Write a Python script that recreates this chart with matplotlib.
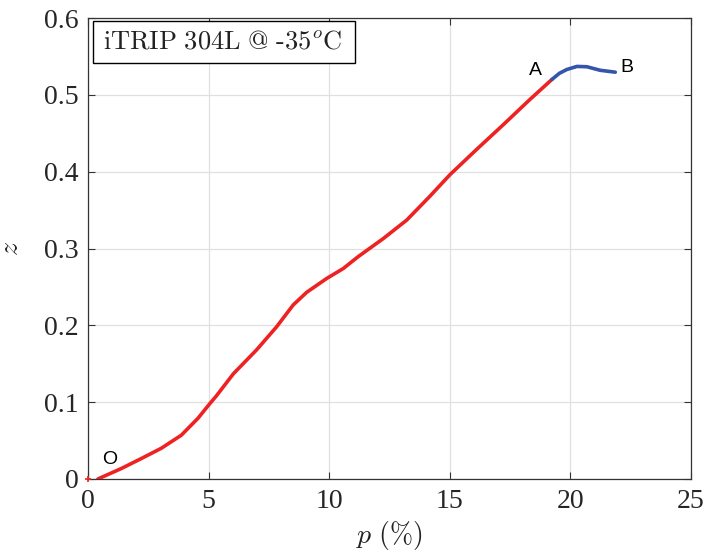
import matplotlib
matplotlib.use("Agg")
import matplotlib.pyplot as plt
from matplotlib.patches import Rectangle

plt.rcParams['font.family'] = ['Liberation Serif', 'DejaVu Serif']
plt.rcParams['mathtext.fontset'] = 'cm'

# Segment O-A (red)
p_red = [0.41, 1.38, 2.21, 3.04, 3.87, 4.56, 5.05, 5.32, 6.03, 6.99, 7.82, 8.51, 9.07,
         9.90, 10.59, 11.21, 12.25, 13.22, 14.18, 15.01, 16.12, 17.22, 18.33, 19.24]
z_red = [0.0, 0.0136, 0.0266, 0.040, 0.057, 0.079, 0.098, 0.108, 0.137, 0.168, 0.198, 0.2265, 0.243,
         0.261, 0.274, 0.2895, 0.313, 0.337, 0.368, 0.396, 0.429, 0.461, 0.494, 0.520]
# Segment A-B (blue)
p_blue = [19.24, 19.55, 19.86, 20.28, 20.69, 21.24, 21.87]
z_blue = [0.520, 0.528, 0.533, 0.537, 0.5366, 0.532, 0.5295]

x_ticks = [0, 5, 10, 15, 20, 25]
y_ticks = [0, 0.1, 0.2, 0.3, 0.4, 0.5, 0.6]
y_tick_labels = ['0', '0.1', '0.2', '0.3', '0.4', '0.5', '0.6']

fig = plt.figure(figsize=(7.07, 5.58), dpi=100)
ax = fig.add_axes([0.1245, 0.1416, 0.8525, 0.8261])

ax.plot([0], [0], marker='+', color='#ee2222', markersize=5, mew=1.2, clip_on=False, zorder=4)
ax.plot(p_red, z_red, color='#ee2222', lw=2.6, solid_capstyle='round',
        solid_joinstyle='round', zorder=3)
ax.plot(p_blue, z_blue, color='#3355aa', lw=2.6, solid_capstyle='round',
        solid_joinstyle='round', zorder=3)

ax.set_xlim(0, 25)
ax.set_ylim(0, 0.6)
ax.set_xticks(x_ticks)
ax.set_xticklabels([str(t) for t in x_ticks])
ax.set_yticks(y_ticks)
ax.set_yticklabels(y_tick_labels)
ax.grid(True, color='#e0e0e0', lw=0.9)
ax.set_axisbelow(True)
ax.tick_params(direction='in', top=True, right=True, length=5, width=0.8,
               labelsize=20, colors='#333333', labelcolor='#262626', pad=7)
for s in ax.spines.values():
    s.set_color('#333333')
    s.set_linewidth(0.9)

ax.set_xlabel(r'$p\ \mathrm{(\%)}$', fontsize=20, labelpad=4, color='#222222')
ax.set_ylabel(r'$z$', fontsize=20, labelpad=14, color='#222222')

ax.add_patch(Rectangle((0.008, 0.902), 0.435, 0.091, transform=ax.transAxes,
                       fc='white', ec='black', lw=1.0, zorder=5))
ax.text(0.025, 0.948, r'$\mathrm{iTRIP\ 304L\ @\ \text{-}35}^{o}\mathrm{C}$', transform=ax.transAxes,
        fontsize=19, va='center', ha='left', color='#222222', zorder=6)

sans = ['Liberation Sans', 'DejaVu Sans']
ax.text(18.55, 0.532, 'A', fontsize=14, family=sans, ha='center', va='center')
ax.text(22.35, 0.535, 'B', fontsize=14, family=sans, ha='center', va='center')
ax.text(0.9, 0.025, 'O', fontsize=14, family=sans, ha='center', va='center')

fig.savefig('out.png', dpi=100)
